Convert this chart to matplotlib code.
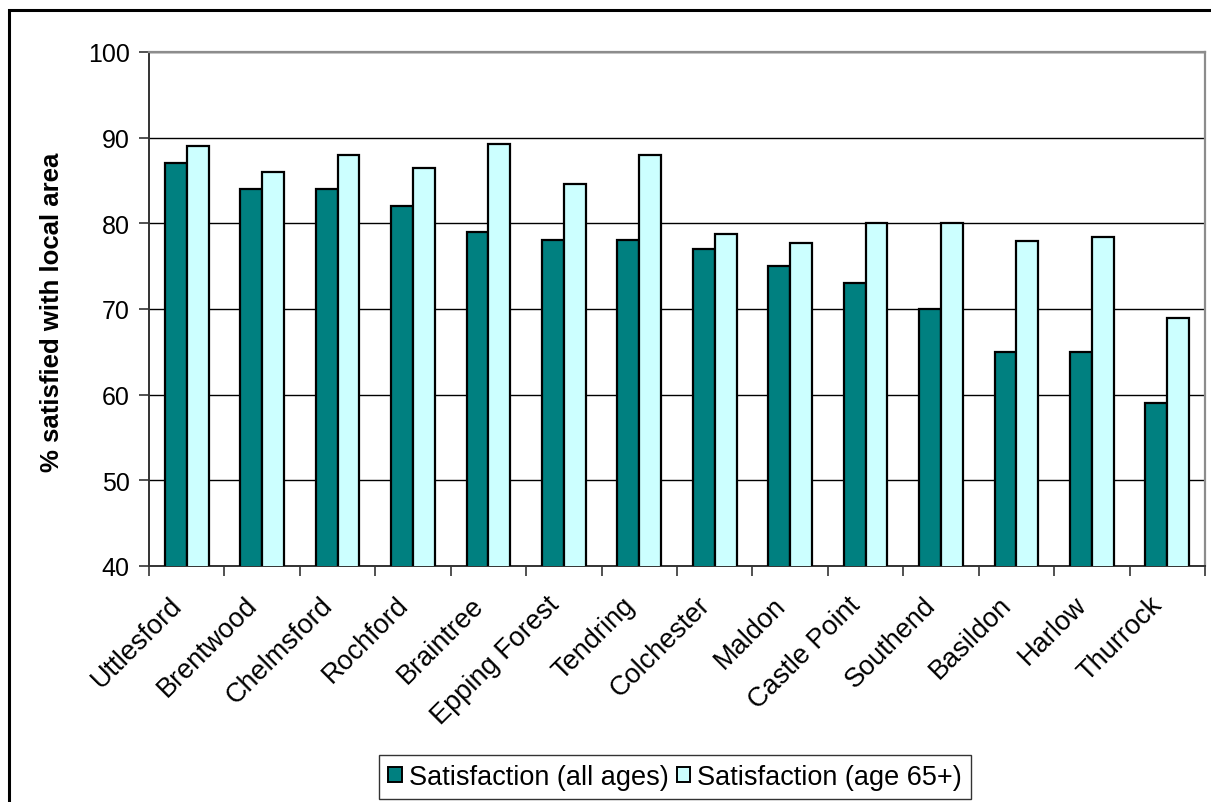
import numpy as np
import matplotlib
matplotlib.use("Agg")
import matplotlib.pyplot as plt
from matplotlib.patches import Rectangle, Patch
from matplotlib.transforms import ScaledTranslation

plt.rcParams['font.family'] = ['Liberation Sans', 'DejaVu Sans']

districts = ["Uttlesford", "Brentwood", "Chelmsford", "Rochford", "Braintree",
             "Epping Forest", "Tendring", "Colchester", "Maldon", "Castle Point",
             "Southend", "Basildon", "Harlow", "Thurrock"]
sat_all_ages = [87, 84, 84, 82, 79, 78, 78, 77, 75, 73, 70, 65, 65, 59]
sat_age_65 = [89, 86, 88, 86.5, 89.3, 84.6, 88, 78.8, 77.7, 80, 80, 77.9, 78.4, 69]
y_ticks = [40, 50, 60, 70, 80, 90, 100]

W, H = 1211, 803
fig = plt.figure(figsize=(W / 100, H / 100), dpi=100)

# outer chart frame (runs off the right and bottom edges)
fig.patches.append(Rectangle((9 / W, -0.1), 1.2, 1 - 11 / H + 0.1,
                             transform=fig.transFigure, fill=False,
                             edgecolor='black', linewidth=2.2, zorder=0))

ax = fig.add_axes([149 / W, 1 - 567 / H, (1205 - 149) / W, (567 - 53) / H])

x = np.arange(len(districts))
w = 0.29
ax.bar(x - w / 2, sat_all_ages, w, color='#008080', edgecolor='black',
       linewidth=1.6, zorder=3, label='Satisfaction (all ages)')
ax.bar(x + w / 2, sat_age_65, w, color='#CCFFFF', edgecolor='black',
       linewidth=1.6, zorder=3, label='Satisfaction (age 65+)')

ax.set_xlim(-0.5, len(districts) - 0.5)
ax.set_ylim(40, 100)
ax.set_yticks(y_ticks)
ax.set_yticklabels([str(v) for v in y_ticks], fontsize=18)
ax.yaxis.grid(True, color='black', linewidth=1.0, zorder=1)

# category labels at centres, tick marks at category boundaries
ax.set_xticks(x)
ax.set_xticklabels(districts, rotation=45, ha='right', rotation_mode='anchor',
                   fontsize=19.5)
ax.set_xticks(np.arange(-0.5, len(districts)), minor=True)
ax.tick_params(axis='x', which='major', length=0, pad=14)
ax.tick_params(axis='x', which='minor', length=7, width=1.2, color='#333333')
ax.tick_params(axis='y', length=7, width=1.2, color='#333333', pad=7)

# nudge the slanted category labels a little left and down
shift = ScaledTranslation(-0.18, -0.06, fig.dpi_scale_trans)
for tick in ax.xaxis.get_major_ticks():
    tick.label1.set_transform(tick.label1.get_transform() + shift)

for side in ('top', 'right'):
    ax.spines[side].set_color('#8c8c8c')
    ax.spines[side].set_linewidth(1.6)
ax.spines['left'].set_color('#333333')
ax.spines['left'].set_linewidth(1.4)
ax.spines['bottom'].set_color('#333333')
ax.spines['bottom'].set_linewidth(1.4)

fig.text(52 / W, 1 - 312 / H, '% satisfied with local area', rotation=90,
         ha='center', va='center', fontsize=18.5, fontweight='bold')

handles = [Patch(facecolor='#008080', edgecolor='black', linewidth=1.4),
           Patch(facecolor='#CCFFFF', edgecolor='black', linewidth=1.4)]
leg = fig.legend(handles, ['Satisfaction (all ages)', 'Satisfaction (age 65+)'],
                 loc='center', bbox_to_anchor=(675 / W, 1 - 778 / H), ncol=2,
                 fontsize=19.5, frameon=True, fancybox=False, edgecolor='black',
                 handlelength=0.5, handleheight=0.5, handletextpad=0.25,
                 columnspacing=0.3, borderpad=0.33, borderaxespad=0)
leg.get_frame().set_linewidth(1.0)

fig.savefig('out.png', dpi=100, facecolor='white')
